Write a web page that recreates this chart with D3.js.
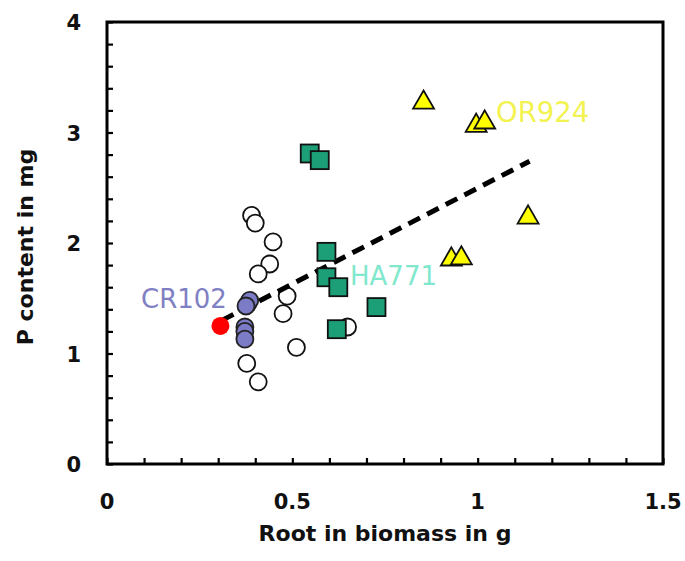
<!DOCTYPE html>
<html>
<head>
<meta charset="utf-8">
<script src="https://cdn.jsdelivr.net/npm/d3@7"></script>
<style>
  html, body { margin: 0; padding: 0; background: #fff; }
  svg { display: block; }
</style>
</head>
<body>
<div id="chart"></div>
<script>
// ---- data ----
const openX = [0.39, 0.40, 0.448, 0.439, 0.408, 0.486, 0.475, 0.511, 0.377, 0.408, 0.649, 0.38];
const openY = [2.25, 2.18, 2.01, 1.81, 1.72, 1.52, 1.36, 1.055, 0.91, 0.744, 1.24, 1.45];

const ha771X = [0.547, 0.574, 0.592, 0.592, 0.624, 0.727, 0.62];
const ha771Y = [2.81, 2.75, 1.92, 1.69, 1.60, 1.42, 1.22];

const or924X = [0.854, 0.996, 1.019, 1.136, 0.929, 0.956];
const or924Y = [3.28, 3.07, 3.10, 2.24, 1.86, 1.87];

const cr102X = [0.385, 0.375, 0.372, 0.372, 0.372];
const cr102Y = [1.48, 1.43, 1.24, 1.20, 1.13];

const refX = [0.306];
const refY = [1.25];

const trendX = [0.31, 1.14];
const trendY = [1.30, 2.74];

const xTicks = [0, 0.5, 1, 1.5];
const xTickLabels = ["0", "0.5", "1", "1.5"];
const yTicks = [0, 1, 2, 3, 4];
const yTickLabels = ["0", "1", "2", "3", "4"];

const xTitle = "Root in biomass in g";
const yTitle = "P content in mg";
const labelCR = "CR102", labelHA = "HA771", labelOR = "OR924";

// ---- layout ----
const W = 685, H = 561;
const L = 107, R = 663, T = 22, B = 464;

const svg = d3.select("#chart").append("svg").attr("width", W).attr("height", H);

const x = d3.scaleLinear().domain([0, 1.5]).range([L, R]);
const y = d3.scaleLinear().domain([0, 4]).range([B, T]);

const zip = (a, b) => a.map((v, i) => [v, b[i]]);

// minor ticks (inward)
const xAxis = d3.axisBottom(x).tickValues(d3.range(0, 1.5001, 0.1)).tickSizeInner(-6).tickSizeOuter(0).tickFormat("");
const yAxis = d3.axisLeft(y).tickValues(d3.range(0, 4.0001, 0.2)).tickSizeInner(-6).tickSizeOuter(0).tickFormat("");

const gx = svg.append("g").attr("transform", `translate(0,${B})`).call(xAxis);
const gy = svg.append("g").attr("transform", `translate(${L},0)`).call(yAxis);
[gx, gy].forEach(g => {
  g.select(".domain").remove();
  g.selectAll(".tick line").attr("stroke", "#000").attr("stroke-width", 2.2);
});

// frame
svg.append("rect")
  .attr("x", x(0)).attr("y", y(4))
  .attr("width", x(1.5) - x(0)).attr("height", y(0) - y(4))
  .attr("fill", "none").attr("stroke", "#000").attr("stroke-width", 3);

// tick labels
svg.append("g").selectAll("text").data(xTicks).join("text")
  .attr("x", d => x(d)).attr("y", B + 45)
  .attr("text-anchor", "middle")
  .attr("font-family", "DejaVu Sans").attr("font-weight", "bold").attr("font-size", 21)
  .attr("fill", "#111")
  .text((d, i) => xTickLabels[i]);

svg.append("g").selectAll("text").data(yTicks).join("text")
  .attr("x", L - 26).attr("y", d => y(d) + 8)
  .attr("text-anchor", "end")
  .attr("font-family", "DejaVu Sans").attr("font-weight", "bold").attr("font-size", 21)
  .attr("fill", "#111")
  .text((d, i) => yTickLabels[i]);

// axis titles
svg.append("text")
  .attr("x", (L + R) / 2 + 0).attr("y", 541)
  .attr("text-anchor", "middle")
  .attr("font-family", "DejaVu Sans").attr("font-weight", "bold").attr("font-size", 22)
  .attr("fill", "#111")
  .text(xTitle);

svg.append("text")
  .attr("transform", `translate(33,${247}) rotate(-90)`)
  .attr("text-anchor", "middle")
  .attr("font-family", "DejaVu Sans").attr("font-weight", "bold").attr("font-size", 22)
  .attr("fill", "#111")
  .text(yTitle);

const plot = svg.append("g");

// open circles
plot.selectAll("circle.open").data(zip(openX, openY)).join("circle")
  .attr("class", "open")
  .attr("cx", d => x(d[0])).attr("cy", d => y(d[1])).attr("r", 8.5)
  .attr("fill", "#fff").attr("stroke", "#111").attr("stroke-width", 1.8);

// trend line
plot.append("line")
  .attr("x1", x(trendX[0])).attr("y1", y(trendY[0]))
  .attr("x2", x(trendX[1])).attr("y2", y(trendY[1]))
  .attr("stroke", "#000").attr("stroke-width", 5)
  .attr("stroke-dasharray", "13,8");

// HA771 squares
const s = 18;
plot.selectAll("rect.ha").data(zip(ha771X, ha771Y)).join("rect")
  .attr("class", "ha")
  .attr("x", d => x(d[0]) - s / 2).attr("y", d => y(d[1]) - s / 2)
  .attr("width", s).attr("height", s)
  .attr("fill", "#1c9e76").attr("stroke", "#111").attr("stroke-width", 1.8);

// OR924 triangles
const tri = d3.symbol().type(d3.symbolTriangle).size(190);
plot.selectAll("path.or").data(zip(or924X, or924Y)).join("path")
  .attr("class", "or")
  .attr("transform", d => `translate(${x(d[0])},${y(d[1]) + 1})`)
  .attr("d", tri)
  .attr("fill", "#ffff00").attr("stroke", "#111").attr("stroke-width", 1.8).attr("stroke-linejoin", "miter");

// CR102 circles
plot.selectAll("circle.cr").data(zip(cr102X, cr102Y)).join("circle")
  .attr("class", "cr")
  .attr("cx", d => x(d[0])).attr("cy", d => y(d[1])).attr("r", 8.5)
  .attr("fill", "#7b7bc6").attr("stroke", "#222").attr("stroke-width", 1.8);

// reference red point
plot.selectAll("circle.ref").data(zip(refX, refY)).join("circle")
  .attr("class", "ref")
  .attr("cx", d => x(d[0])).attr("cy", d => y(d[1])).attr("r", 9)
  .attr("fill", "#ff0000");

// labels
svg.append("text").attr("x", 141).attr("y", 308)
  .attr("font-family", "DejaVu Sans").attr("font-size", 26).attr("fill", "#8080c4").text(labelCR);
svg.append("text").attr("x", 350).attr("y", 285)
  .attr("font-family", "DejaVu Sans").attr("font-size", 26).attr("fill", "#80e8cc").text(labelHA);
svg.append("text").attr("x", 496).attr("y", 122)
  .attr("font-family", "DejaVu Sans").attr("font-size", 27.5).attr("fill", "#f2f250").text(labelOR);
</script>
</body>
</html>
